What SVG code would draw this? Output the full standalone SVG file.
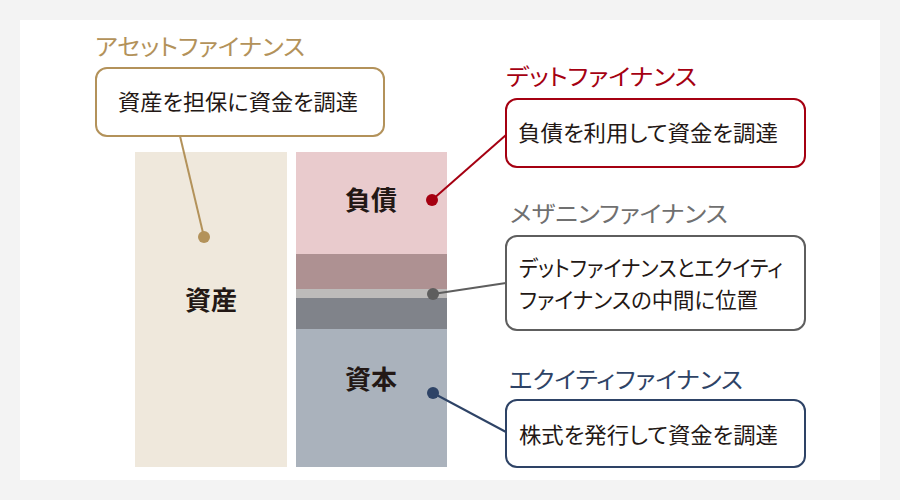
<svg xmlns="http://www.w3.org/2000/svg" width="900" height="500" viewBox="0 0 900 500">
<style>
text{font-family:"Noto Sans CJK JP","Noto Sans",sans-serif;font-feature-settings:"palt";}
.body{font-size:22px;fill:#231815;}
.title{font-size:23px;}
.lbl{font-size:26px;font-weight:bold;fill:#231815;text-anchor:middle;}
.box{fill:#fff;stroke-width:2;}
.ln{stroke-width:2;fill:none;}
</style>
<rect x="0" y="0" width="900" height="500" fill="#f3f3f3"/>
<rect x="20" y="20" width="860" height="460" fill="#fff"/>
<g id="asset">
<rect x="135" y="152" width="152" height="315" fill="#efe8dc"/>
<text class="lbl" x="211" y="310">資産</text>
</g>
<g id="debt">
<rect x="296" y="152" width="151" height="102" fill="#e9cbcd"/>
<text class="lbl" x="371" y="210">負債</text>
</g>
<g id="mezzanine">
<rect x="296" y="254" width="151" height="35" fill="#ae9192"/>
<rect x="296" y="289" width="151" height="9" fill="#bdbbba"/>
<rect x="296" y="298" width="151" height="31" fill="#80838a"/>
</g>
<g id="equity">
<rect x="296" y="329" width="151" height="138" fill="#aab2bc"/>
<text class="lbl" x="371" y="389">資本</text>
</g>
<g id="connectors">
<line class="ln" x1="204" y1="237" x2="180" y2="136" stroke="#b3925a"/>
<circle cx="204" cy="237" r="6" fill="#b3925a"/>
<line class="ln" x1="432" y1="200" x2="506" y2="135" stroke="#a50011"/>
<circle cx="432" cy="200" r="6" fill="#a50011"/>
<line class="ln" x1="433" y1="294" x2="506" y2="283" stroke="#5e5e5e"/>
<circle cx="433" cy="294" r="6" fill="#5e5e5e"/>
<line class="ln" x1="433" y1="393" x2="506" y2="432" stroke="#2e4366"/>
<circle cx="433" cy="393" r="6" fill="#2e4366"/>
</g>
<g id="asset-finance">
<text class="title" x="95" y="55" fill="#b3925a" textLength="210" lengthAdjust="spacingAndGlyphs">アセットファイナンス</text>
<rect class="box" x="96" y="68" width="288" height="68" rx="11" stroke="#b3925a"/>
<text class="body" x="118" y="110" textLength="240" lengthAdjust="spacingAndGlyphs">資産を担保に資金を調達</text>
</g>
<g id="debt-finance">
<text class="title" x="506" y="85" fill="#a50011" textLength="191" lengthAdjust="spacingAndGlyphs">デットファイナンス</text>
<rect class="box" x="506" y="99" width="299" height="68" rx="11" stroke="#a50011"/>
<text class="body" x="518" y="141" textLength="260" lengthAdjust="spacingAndGlyphs">負債を利用して資金を調達</text>
</g>
<g id="mezzanine-finance">
<text class="title" x="510" y="222" fill="#707070" textLength="218" lengthAdjust="spacingAndGlyphs">メザニンファイナンス</text>
<rect class="box" x="506" y="236" width="299" height="94" rx="11" stroke="#5e5e5e"/>
<text class="body" x="519" y="276" textLength="264" lengthAdjust="spacingAndGlyphs">デットファイナンスとエクイティ</text>
<text class="body" x="519" y="308" textLength="239" lengthAdjust="spacingAndGlyphs">ファイナンスの中間に位置</text>
</g>
<g id="equity-finance">
<text class="title" x="509" y="388" fill="#2e4366" textLength="234" lengthAdjust="spacingAndGlyphs">エクイティファイナンス</text>
<rect class="box" x="506" y="400" width="299" height="67" rx="11" stroke="#2e4366"/>
<text class="body" x="519" y="443" textLength="259" lengthAdjust="spacingAndGlyphs">株式を発行して資金を調達</text>
</g>
</svg>
